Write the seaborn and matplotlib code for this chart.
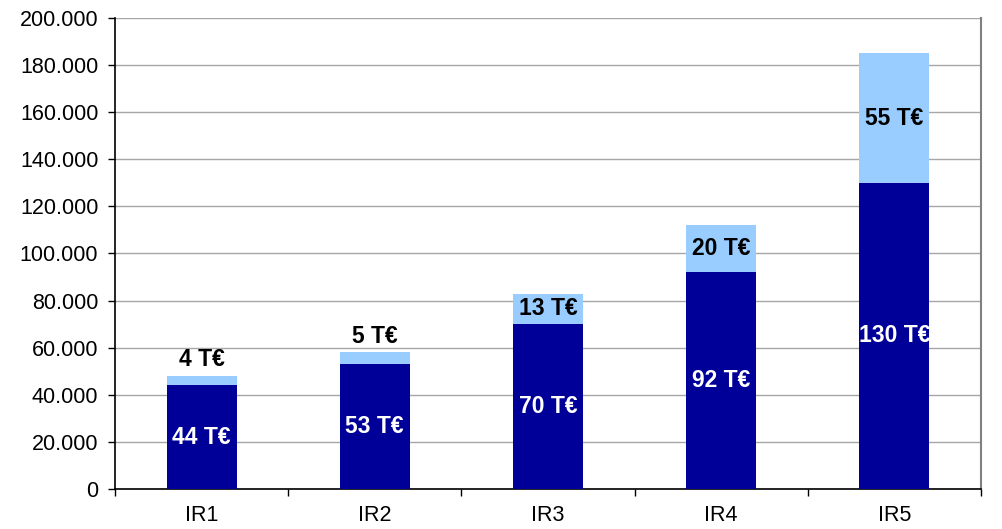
import matplotlib
matplotlib.use("Agg")
import matplotlib.pyplot as plt
import matplotlib.ticker as mticker
import seaborn as sns
import pandas as pd

# Investment per release: base amount and additional amount (EUR)
releases = ["IR1", "IR2", "IR3", "IR4", "IR5"]
base_values = [44000, 53000, 70000, 92000, 130000]
extra_values = [4000, 5000, 13000, 20000, 55000]
base_labels = ["44 T€", "53 T€", "70 T€", "92 T€", "130 T€"]
extra_labels = ["4 T€", "5 T€", "13 T€", "20 T€", "55 T€"]

DARK = "#000099"
LIGHT = "#99CCFF"
GRID = "#A6A6A6"

sns.set_theme(style="white")
plt.rcParams["font.family"] = ["Liberation Sans", "DejaVu Sans"]

df = pd.DataFrame({
    "release": releases,
    "base": base_values,
    "extra": extra_values,
})
df["total"] = df["base"] + df["extra"]

fig = plt.figure(figsize=(10.02, 5.29), dpi=100)
ax = fig.add_axes([0.1148, 0.0756, 0.979 - 0.1148, 0.966 - 0.0756])

bar_w = 0.405
sns.barplot(data=df, x="release", y="total", color=LIGHT, width=bar_w,
            saturation=1, ax=ax, zorder=3, edgecolor="none", linewidth=0)
sns.barplot(data=df, x="release", y="base", color=DARK, width=bar_w,
            saturation=1, ax=ax, zorder=4, edgecolor="none", linewidth=0)

ax.set_xlim(-0.5, len(releases) - 0.5)
ax.set_ylim(0, 200000)
ax.set_xlabel("")
ax.set_ylabel("")

# y axis: ticks every 20.000 with dot as thousands separator
ax.yaxis.set_major_locator(mticker.MultipleLocator(20000))
ax.yaxis.set_major_formatter(
    mticker.FuncFormatter(lambda v, p: f"{int(v):,}".replace(",", ".")))
ax.grid(axis="y", color=GRID, linewidth=1.0, zorder=0)
ax.grid(axis="x", visible=False)

# x axis: labels at bar centres, tick marks at category boundaries
ax.set_xticks(range(len(releases)))
ax.set_xticklabels(releases)
ax.set_xticks([i - 0.5 for i in range(len(releases) + 1)], minor=True)
ax.tick_params(axis="x", which="major", length=0, pad=11.5, labelsize=15.5,
               labelcolor="black")
ax.tick_params(axis="x", which="minor", length=5, width=1, color="black",
               direction="out", bottom=True)
ax.tick_params(axis="y", which="major", length=5, width=1, color="black",
               direction="out", left=True, pad=7, labelsize=15.5,
               labelcolor="black")

for side in ["left", "bottom"]:
    ax.spines[side].set_visible(True)
    ax.spines[side].set_color("black")
    ax.spines[side].set_linewidth(1.2)
ax.spines["right"].set_visible(True)
ax.spines["right"].set_color("#808080")
ax.spines["right"].set_linewidth(1.5)
ax.spines["top"].set_visible(False)

# value labels
label_size = 16.5
for i, (b, e) in enumerate(zip(base_values, extra_values)):
    ax.text(i, b / 2, base_labels[i], ha="center", va="center", color="white",
            fontsize=label_size, fontweight="bold", zorder=6)
    if e < 10000:
        ax.annotate(extra_labels[i], xy=(i, b + e), xytext=(0, 11.5),
                    textcoords="offset points", ha="center", va="center",
                    color="black", fontsize=label_size, fontweight="bold",
                    zorder=6)
    else:
        ax.text(i, b + e / 2, extra_labels[i], ha="center", va="center",
                color="black", fontsize=label_size, fontweight="bold", zorder=6)

fig.savefig("out.png", dpi=100)
